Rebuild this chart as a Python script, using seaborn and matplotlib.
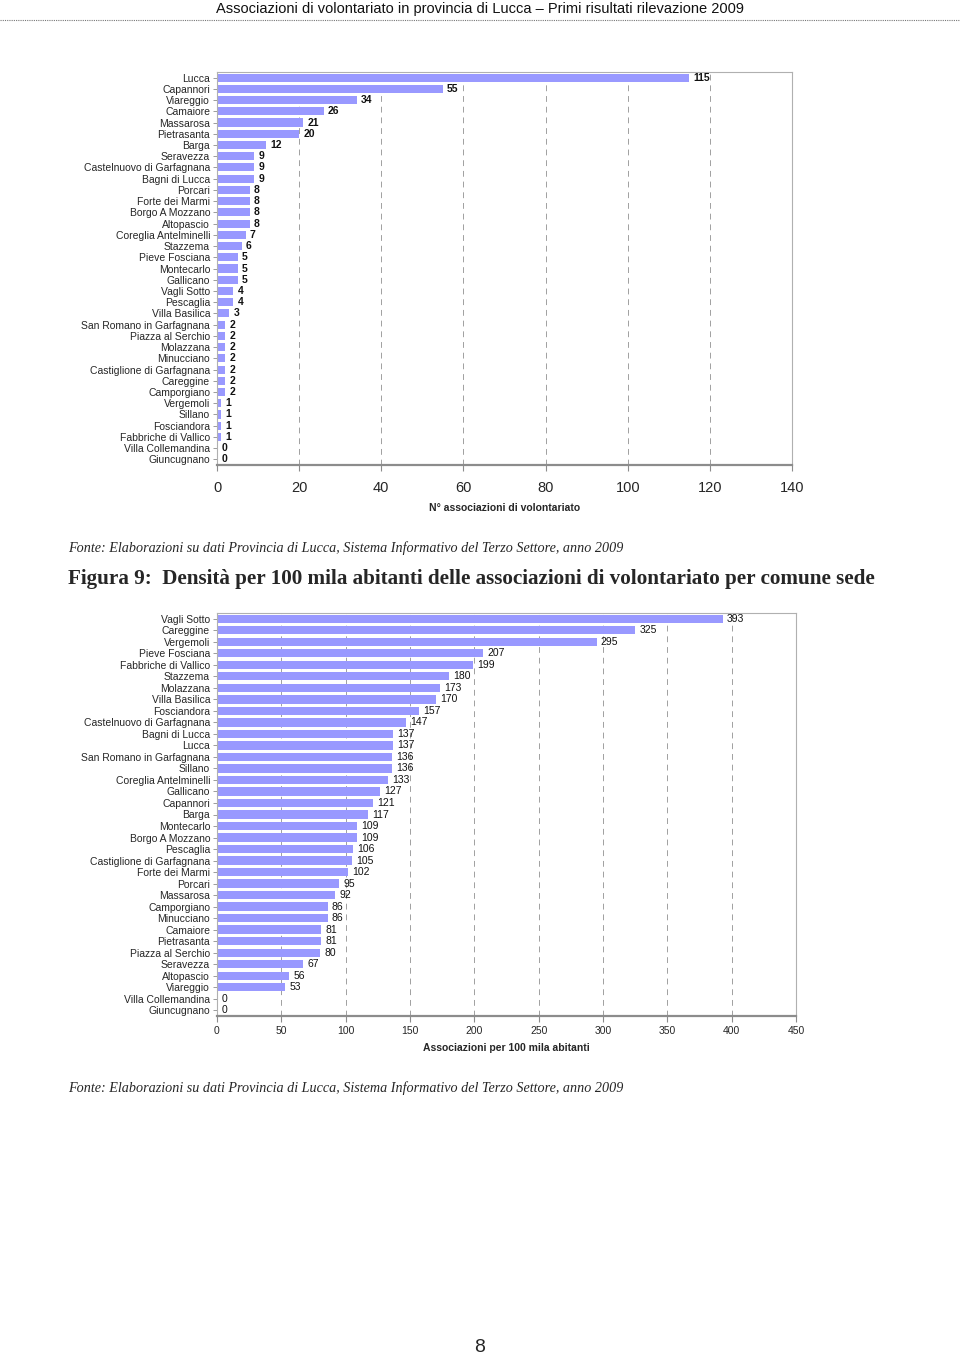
import matplotlib
matplotlib.use("Agg")
import matplotlib.pyplot as plt
from matplotlib import font_manager
import seaborn as sns
import pandas as pd

# ---------------- data ----------------
comuni_n = ["Lucca", "Capannori", "Viareggio", "Camaiore", "Massarosa", "Pietrasanta", "Barga",
            "Seravezza", "Castelnuovo di Garfagnana", "Bagni di Lucca", "Porcari", "Forte dei Marmi",
            "Borgo A Mozzano", "Altopascio", "Coreglia Antelminelli", "Stazzema", "Pieve Fosciana",
            "Montecarlo", "Gallicano", "Vagli Sotto", "Pescaglia", "Villa Basilica",
            "San Romano in Garfagnana", "Piazza al Serchio", "Molazzana", "Minucciano",
            "Castiglione di Garfagnana", "Careggine", "Camporgiano", "Vergemoli", "Sillano",
            "Fosciandora", "Fabbriche di Vallico", "Villa Collemandina", "Giuncugnano"]
n_assoc = [115, 55, 34, 26, 21, 20, 12, 9, 9, 9, 8, 8, 8, 8, 7, 6, 5, 5, 5, 4, 4, 3,
           2, 2, 2, 2, 2, 2, 2, 1, 1, 1, 1, 0, 0]

comuni_d = ["Vagli Sotto", "Careggine", "Vergemoli", "Pieve Fosciana", "Fabbriche di Vallico",
            "Stazzema", "Molazzana", "Villa Basilica", "Fosciandora", "Castelnuovo di Garfagnana",
            "Bagni di Lucca", "Lucca", "San Romano in Garfagnana", "Sillano",
            "Coreglia Antelminelli", "Gallicano", "Capannori", "Barga", "Montecarlo",
            "Borgo A Mozzano", "Pescaglia", "Castiglione di Garfagnana", "Forte dei Marmi",
            "Porcari", "Massarosa", "Camporgiano", "Minucciano", "Camaiore", "Pietrasanta",
            "Piazza al Serchio", "Seravezza", "Altopascio", "Viareggio", "Villa Collemandina",
            "Giuncugnano"]
densita = [393, 325, 295, 207, 199, 180, 173, 170, 157, 147, 137, 137, 136, 136, 133, 127,
           121, 117, 109, 109, 106, 105, 102, 95, 92, 86, 86, 81, 81, 80, 67, 56, 53, 0, 0]

xticks_top = [0, 20, 40, 60, 80, 100, 120, 140]
xticks_bot = [0, 50, 100, 150, 200, 250, 300, 350, 400, 450]

header = "Associazioni di volontariato in provincia di Lucca – Primi risultati rilevazione 2009"
fonte = "Fonte: Elaborazioni su dati Provincia di Lucca, Sistema Informativo del Terzo Settore, anno 2009"
titolo = "Figura 9:  Densità per 100 mila abitanti delle associazioni di volontariato per comune sede"

# ---------------- style ----------------
sns.set_theme(style="white")
plt.rcParams['font.family'] = ['Liberation Sans', 'DejaVu Sans']
names = {f.name for f in font_manager.fontManager.ttflist}
narrow = 'Liberation Sans Narrow' if 'Liberation Sans Narrow' in names else None

BAR = "#9999FF"
GRID = "#a0a0a0"
FRAME = "#8c8c8c"

fig = plt.figure(figsize=(9.6, 13.57), dpi=100)

# header
if narrow:
    fig.text(0.5, 1 - 9 / 1357, header, ha="center", va="center", fontsize=12,
             family=[narrow, 'DejaVu Sans'], color="#111111")
else:
    fig.text(0.5, 1 - 9 / 1357, header, ha="center", va="center", fontsize=10.5,
             color="#111111")
fig.add_artist(plt.Line2D([0, 1], [1 - 20 / 1357] * 2, color="#777777", lw=0.8,
                          linestyle=(0, (1, 1))))


def style_axes(ax, xmax, xticks, tick_fs, lab, lab_fs, tickpad, labpad, bold_vals, val_fs):
    ax.set_xlim(0, xmax)
    ax.set_ylim(len(ax.get_yticks()) - 0.5, -0.5)
    ax.set_xticks(xticks)
    ax.set_xticklabels([str(t) for t in xticks], fontsize=tick_fs)
    ax.tick_params(axis="x", length=4, width=0.8, color=FRAME, pad=tickpad, direction="out",
                   bottom=True)
    ax.tick_params(axis="y", length=3, width=0.6, color=FRAME, pad=2, labelsize=7.5,
                   left=True)
    for t in xticks[1:-1]:
        ax.axvline(t, color=GRID, lw=0.7, linestyle=(0, (6, 5)), zorder=0.5)
    for p in ax.patches:
        p.set_zorder(2)
    for s in ["top", "right", "left"]:
        ax.spines[s].set_color("#b0b0b0")
        ax.spines[s].set_linewidth(0.8)
    ax.spines["bottom"].set_color(FRAME)
    ax.spines["bottom"].set_linewidth(1.6)
    ax.set_ylabel("")
    ax.set_xlabel(lab, fontsize=lab_fs, fontweight="bold", labelpad=labpad)
    for c in ax.containers:
        ax.bar_label(c, fmt="%d", padding=3, fontsize=val_fs,
                     fontweight="bold" if bold_vals else "normal", color="#111111", zorder=3)


# top chart
df1 = pd.DataFrame({"comune": comuni_n, "n": n_assoc})
ax1 = fig.add_axes([217 / 960, 1 - 465 / 1357, (792 - 217) / 960, (465 - 72) / 1357])
sns.barplot(data=df1, x="n", y="comune", orient="h", color=BAR, saturation=1,
            width=0.72, ax=ax1, edgecolor="none")
style_axes(ax1, 140, xticks_top, 10.5, "N° associazioni di volontariato", 7.5, 7.5, 5.5, True, 7.5)

# fonte + title
fig.text(68 / 960, 1 - 548 / 1357, fonte, ha="left", va="center", fontsize=10.2,
         family=['Liberation Serif', 'DejaVu Serif'], style="italic")
fig.text(68 / 960, 1 - 579 / 1357, titolo, ha="left", va="center", fontsize=15.2,
         family=['Liberation Serif', 'DejaVu Serif'], fontweight="bold")

# bottom chart
df2 = pd.DataFrame({"comune": comuni_d, "d": densita})
ax2 = fig.add_axes([217 / 960, 1 - 1016 / 1357, (796 - 217) / 960, (1016 - 613) / 1357])
sns.barplot(data=df2, x="d", y="comune", orient="h", color=BAR, saturation=1,
            width=0.72, ax=ax2, edgecolor="none")
style_axes(ax2, 450, xticks_bot, 7.5, "Associazioni per 100 mila abitanti", 7.5, 3, 5.5, False, 7.5)

fig.text(68 / 960, 1 - 1088 / 1357, fonte, ha="left", va="center", fontsize=10.2,
         family=['Liberation Serif', 'DejaVu Serif'], style="italic")

# page number
fig.text(480 / 960, 1 - 1347 / 1357, "8", ha="center", va="center", fontsize=14)

fig.savefig("out.png", dpi=100)
